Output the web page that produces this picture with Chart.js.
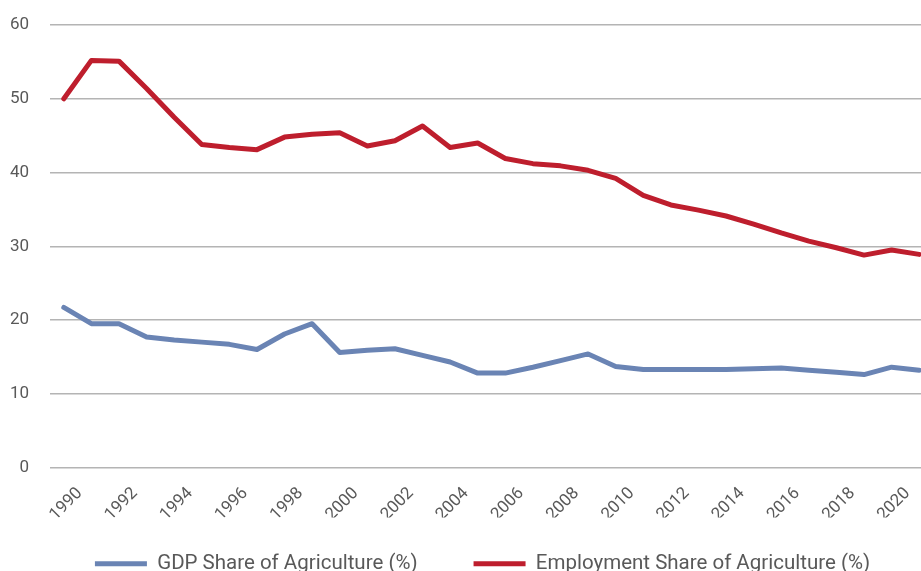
<!DOCTYPE html>
<html>
<head>
<meta charset="utf-8">
<script src="https://cdn.jsdelivr.net/npm/chart.js@4/dist/chart.umd.min.js"></script>
<style>
  html, body { margin: 0; padding: 0; background: #ffffff; overflow: hidden; }
  #wrap { position: absolute; left: 0; top: 0; width: 940px; height: 604px; }
</style>
</head>
<body>
<div id="wrap"><canvas id="c"></canvas></div>
<script>
const years = [1990,1991,1992,1993,1994,1995,1996,1997,1998,1999,2000,2001,2002,2003,2004,2005,
               2006,2007,2008,2009,2010,2011,2012,2013,2014,2015,2016,2017,2018,2019,2020,2021];
const gdpShare = [21.7,19.5,19.5,17.7,17.3,17.0,16.7,16.0,18.1,19.5,15.6,15.9,16.1,15.2,14.3,12.8,
                  12.8,13.6,14.5,15.4,13.7,13.3,13.3,13.3,13.3,13.4,13.5,13.2,12.9,12.6,13.6,13.2];
const employmentShare = [50.0,55.2,55.1,51.4,47.5,43.8,43.4,43.1,44.8,45.2,45.4,43.6,44.3,46.3,43.4,44.0,
                         41.9,41.2,40.9,40.3,39.2,36.9,35.6,34.9,34.1,33.0,31.8,30.7,29.8,28.8,29.5,28.9];
const seriesNames = ['GDP Share of Agriculture (%)', 'Employment Share of Agriculture (%)'];
const yTicks = [0, 10, 20, 30, 40, 50, 60];

const FONT = 'Roboto, "DejaVu Sans", sans-serif';
const TEXT = '#595959';

const legendShift = {
  id: 'legendShift',
  afterLayout(chart) {
    const l = chart.legend;
    if (l) { l.left += 32; l.top -= 20; l.bottom -= 20; }
  }
};

new Chart(document.getElementById('c'), {
  type: 'line',
  data: {
    labels: years.map(String),
    datasets: [
      { label: seriesNames[0], data: gdpShare, borderColor: '#6a84b4', backgroundColor: '#6a84b4',
        borderWidth: 5, pointRadius: 0, tension: 0, borderCapStyle: 'round', borderJoinStyle: 'round' },
      { label: seriesNames[1], data: employmentShare, borderColor: '#be1e2d', backgroundColor: '#be1e2d',
        borderWidth: 5, pointRadius: 0, tension: 0, borderCapStyle: 'round', borderJoinStyle: 'round' }
    ]
  },
  options: {
    responsive: true,
    maintainAspectRatio: false,
    animation: false,
    layout: { padding: { top: 25, right: 7, left: 0, bottom: 0 } },
    plugins: {
      tooltip: { enabled: false },
      legend: {
        position: 'bottom',
        labels: {
          usePointStyle: true,
          pointStyle: 'line',
          pointStyleWidth: 52,
          padding: 56,
          color: TEXT,
          font: { family: FONT, size: 20.5 }
        }
      }
    },
    scales: {
      x: {
        type: 'category',
        offset: true,
        grid: { display: false, drawTicks: false },
        border: { display: false },
        ticks: {
          autoSkip: false,
          maxRotation: 45,
          minRotation: 45,
          labelOffset: 16,
          padding: 16,
          color: TEXT,
          font: { family: FONT, size: 17 },
          callback: function (v, i) { const y = years[i]; return y % 2 === 0 ? String(y) : ''; }
        },
        afterFit: function (s) { s.height = 50; s.paddingLeft = 0; s.paddingRight = 0; }
      },
      y: {
        min: 0,
        max: 60,
        afterBuildTicks: function (s) { s.ticks = yTicks.map(v => ({ value: v })); },
        grid: { color: '#b4b4b4', lineWidth: 1.5, drawTicks: false },
        border: { display: false },
        ticks: { padding: 21, color: TEXT, font: { family: FONT, size: 17 } },
        afterFit: function (s) { s.width = 50; s.paddingTop = 0; s.paddingBottom = 0; }
      }
    }
  },
  plugins: [legendShift]
});
</script>
</body>
</html>
